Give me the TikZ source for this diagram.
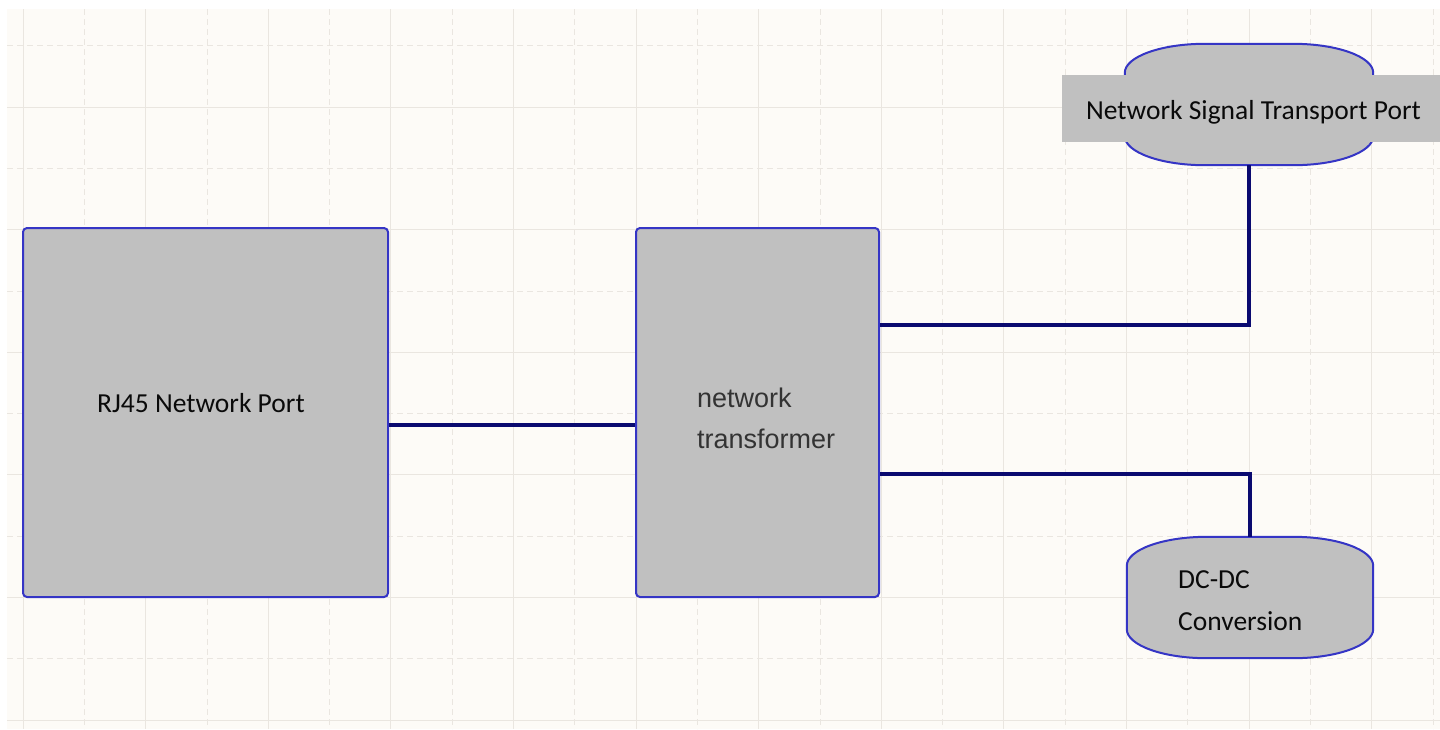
\documentclass[tikz,border=0pt]{standalone}
\usepackage{fontspec}
\setmainfont{Carlito}
\newfontfamily\arialf{Liberation Sans}
\usetikzlibrary{calc}
\definecolor{bgc}{HTML}{FDFBF7}
\definecolor{gridc}{HTML}{EAE6E0}
\definecolor{boxfill}{HTML}{C0C0C0}
\definecolor{boxline}{HTML}{3535C5}
\definecolor{wire}{HTML}{0A0A70}
\definecolor{txt}{HTML}{0A0A0A}
\definecolor{txtg}{HTML}{333333}
\newcommand\myoval[1]{%
\draw[oval] ($(#1.north west)+(0,29)$) .. controls ($(#1.north west)+(0,13)$) and ($(#1.north west)+(36,0)$) .. ($(#1.north west)+(80,0)$)
 -- ($(#1.north east)+(-80,0)$) .. controls ($(#1.north east)+(-36,0)$) and ($(#1.north east)+(0,13)$) .. ($(#1.north east)+(0,29)$)
 -- ($(#1.south east)+(0,-29)$) .. controls ($(#1.south east)+(0,-13)$) and ($(#1.south east)+(-36,0)$) .. ($(#1.south east)+(-80,0)$)
 -- ($(#1.south west)+(80,0)$) .. controls ($(#1.south west)+(36,0)$) and ($(#1.south west)+(0,-13)$) .. ($(#1.south west)+(0,-29)$) -- cycle;}
\begin{document}
\begin{tikzpicture}[x=1pt,y=-1pt,
  gridsolid/.style={draw=gridc,line width=0.8pt},
  griddash/.style={draw=gridc,line width=0.8pt,dash pattern=on 6pt off 4pt},
  block/.style={draw=boxline,fill=boxfill,line width=2pt,rounded corners=4pt,inner sep=0pt},
  oval/.style={draw=boxline,fill=boxfill,line width=2pt},
  ovalanchor/.style={inner sep=0pt,draw=none},
  wirestyle/.style={draw=wire,line width=3.5pt},
  lbl/.style={font=\fontsize{27.5}{32}\selectfont,text=txt,inner sep=0pt},
  lbla/.style={font=\arialf\fontsize{27}{32}\selectfont,text=txtg,inner sep=0pt},
  lblbox/.style={fill=boxfill,inner sep=0pt,draw=none},
]
\path[fill=white] (0,0) rectangle (1440,729);
\useasboundingbox (0,0) rectangle (1440,729);
\fill[bgc] (7,9) rectangle (1440,729);
\foreach \i in {0,...,11} {
  \draw[gridsolid] ({23+122.6*\i},9) -- ({23+122.6*\i},729);
  \draw[griddash] ({84.3+122.6*\i},9) -- ({84.3+122.6*\i},729);
}
\foreach \j in {0,...,5} {
  \draw[gridsolid] (7,{107+122.6*\j}) -- (1440,{107+122.6*\j});
  \draw[griddash] (7,{45.7+122.6*\j}) -- (1440,{45.7+122.6*\j});
}
% blocks
\node[block,minimum width=365pt,minimum height=369pt] (rj) at (205.5,412.5) {};
\node[block,minimum width=243pt,minimum height=369pt] (tr) at (757.5,412.5) {};
\node[ovalanchor,minimum width=248pt,minimum height=121pt] (nstp) at (1249,104.5) {};
\node[ovalanchor,minimum width=246pt,minimum height=121pt] (dc) at (1250,597.5) {};
\myoval{nstp}
\myoval{dc}
% wire levels
\coordinate (ya) at (0,425);
\coordinate (yb) at (0,325);
\coordinate (yc) at (0,474);
\draw[wirestyle] (rj.east |- ya) -- (tr.west |- ya);
\draw[wirestyle] (tr.east |- yb) -| (nstp.south);
\draw[wirestyle] (tr.east |- yc) -| (dc.north);
% labels
\node[lblbox,minimum width=378pt,minimum height=67pt] (nstplbl) at (1251,108.5) {};
\node[lbl,anchor=base] (nstptxt) at (1253.5,119) {Network Signal Transport Port};
\node[lbl,anchor=base west] (rjtxt) at (97,412) {RJ45 Network Port};
\node[lbla,anchor=base west] (trtxt1) at (697,407) {network};
\node[lbla,anchor=base west] (trtxt2) at (697,448) {transformer};
\node[lbl,anchor=base west] (dctxt1) at (1178,588) {DC-DC};
\node[lbl,anchor=base west] (dctxt2) at (1178,630) {Conversion};
\end{tikzpicture}
\end{document}
